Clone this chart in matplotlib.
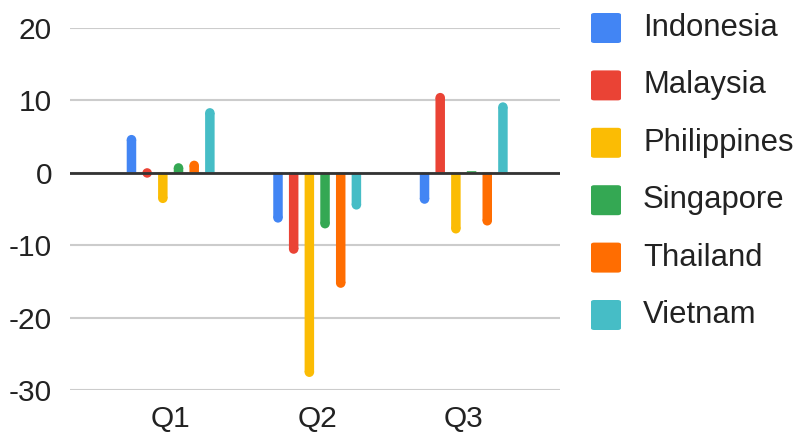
import matplotlib.pyplot as plt
from matplotlib.patches import FancyBboxPatch, Ellipse

plt.rcParams['font.family'] = ['Liberation Sans', 'DejaVu Sans']
plt.rcParams['axes.unicode_minus'] = False

quarters = ['Q1', 'Q2', 'Q3']
countries = ['Indonesia', 'Malaysia', 'Philippines', 'Singapore', 'Thailand', 'Vietnam']
indonesia = [5.2, -6.9, -4.3]
malaysia = [-0.7, -11.2, 11.0]
philippines = [-4.2, -28.2, -8.4]
singapore = [1.3, -7.7, 0.2]
thailand = [1.65, -15.9, -7.3]
vietnam = [8.9, -5.1, 9.7]
series = [indonesia, malaysia, philippines, singapore, thailand, vietnam]
colors = ['#4285F4', '#EA4335', '#FBBC04', '#34A853', '#FF6D01', '#46BDC6']

W, H, DPI = 798, 432, 100
fig = plt.figure(figsize=(W / DPI, H / DPI), dpi=DPI)
ax = fig.add_axes([70 / W, 42 / H, 490 / W, 362.3 / H])
ax.set_xlim(-0.687, 2.657)
ax.set_ylim(-30, 20)

bar_px = 9.5
step = 0.107
bw = bar_px / 146.5
px_per_unit = 362.3 / 50
r = (bar_px / 2) / px_per_unit

for i, (vals, c) in enumerate(zip(series, colors)):
    off = (i - 2.5) * step
    for j, v in enumerate(vals):
        x = j + off
        if abs(v) > r:
            s = 1 if v > 0 else -1
            ax.bar(x, v - s * r, width=bw, color=c, zorder=3, linewidth=0,
                   snap=False)
            ax.add_patch(Ellipse((x, v - s * r), bw, 2 * r, facecolor=c,
                                 edgecolor='none', zorder=3))
        else:
            ax.bar(x, v, width=bw, color=c, zorder=3, linewidth=0, snap=False)

ax.set_yticks([-30, -20, -10, 0, 10, 20])
ax.set_xticks(range(len(quarters)))
ax.set_xticklabels(quarters)
ax.grid(axis='y', color='#cccccc', linewidth=1.5, zorder=0)
ax.axhline(0, color='#333333', linewidth=2, zorder=4)
for s in ax.spines.values():
    s.set_visible(False)
ax.tick_params(length=0, labelsize=21.5, labelcolor='#222222')
ax.tick_params(axis='y', pad=13)
ax.tick_params(axis='x', pad=11)

# legend
for k, (name, c) in enumerate(zip(countries, colors)):
    yc = 28 + k * 57.4
    fig.patches.append(FancyBboxPatch(
        (591 / W, (H - yc - 15) / H), 30 / W, 30 / H,
        boxstyle='round,pad=0,rounding_size=0.004',
        transform=fig.transFigure, facecolor=c, edgecolor='none'))
    fig.text(643 / W, (H - yc) / H, name, fontsize=22.3, color='#222222',
             va='center', ha='left')

fig.savefig('out.png', dpi=DPI)
